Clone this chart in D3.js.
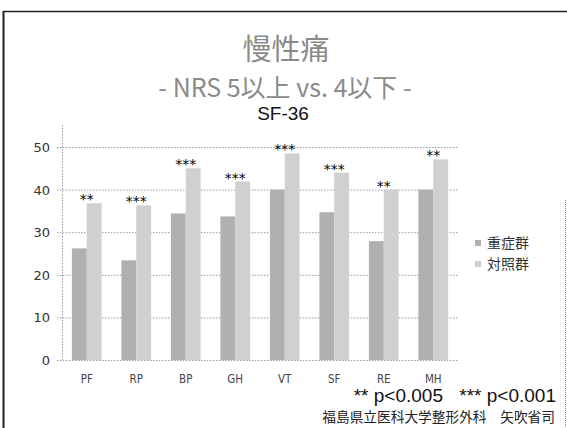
<!DOCTYPE html>
<html><head><meta charset="utf-8">
<script src="https://cdn.jsdelivr.net/npm/d3@7"></script>
<style>
html,body{margin:0;padding:0;background:#fff;}
svg{display:block;}
text{white-space:pre;}
</style></head>
<body>
<svg id="c" width="567" height="428"></svg>
<script>
const categories = ["PF","RP","BP","GH","VT","SF","RE","MH"];
const severeValues = [26.2, 23.4, 34.4, 33.7, 40.0, 34.7, 27.9, 40.0];
const controlValues = [36.8, 36.3, 45.0, 41.9, 48.5, 44.0, 40.0, 47.1];
const significance = ["**","***","***","***","***","***","**","**"];
const seriesNames = ["重症群","対照群"];
const yTicks = [0,10,20,30,40,50];
const pNotes = ["** p<0.005","*** p<0.001"];

const svg = d3.select("#c");
const colors = ["#b0b0b0","#d0d0d0"];

// frame
svg.append("line").attr("x1",3.5).attr("x2",3.5).attr("y1",11).attr("y2",428).attr("stroke","#222").attr("stroke-width",2);
svg.append("line").attr("x1",3).attr("x2",567).attr("y1",11.5).attr("y2",11.5).attr("stroke","#222").attr("stroke-width",1.5);
svg.append("line").attr("x1",565.5).attr("x2",565.5).attr("y1",200).attr("y2",428).attr("stroke","#888").attr("stroke-dasharray","1,1");

// titles
svg.append("text").attr("x",286).attr("y",60).attr("text-anchor","middle")
  .attr("font-family","Noto Sans CJK JP").attr("font-size",29).attr("fill","#8a8a8a").text("慢性痛");
svg.append("text").attr("x",285).attr("y",97).attr("text-anchor","middle")
  .attr("font-family","Noto Sans CJK JP").attr("font-size",25).attr("fill","#8a8a8a").text("- NRS 5以上 vs. 4以下 -");
svg.append("text").attr("x",283).attr("y",120).attr("text-anchor","middle")
  .attr("font-family","Liberation Sans").attr("font-size",19).attr("fill","#111").text("SF-36");

const x0 = d3.scaleBand().domain(categories).range([62,458]).paddingInner(0.4).paddingOuter(0.2);
const x1 = d3.scaleBand().domain([0,1]).range([0,x0.bandwidth()]);
const y = d3.scaleLinear().domain([0,50]).range([360,147]);

// gridlines
const g = svg.append("g");
g.selectAll("line.grid").data(yTicks).join("line")
  .attr("x1",57).attr("x2",458).attr("y1",d=>y(d)+0.5).attr("y2",d=>y(d)+0.5)
  .attr("stroke","#999").attr("stroke-dasharray","1.5,1.5");
g.append("line").attr("x1",62.5).attr("x2",62.5).attr("y1",125).attr("y2",360)
  .attr("stroke","#999").attr("stroke-dasharray","1.5,1.5");

// y axis
const yAxis = d3.axisLeft(y).tickValues(yTicks).tickSize(0).tickPadding(0);
const ya = svg.append("g").attr("transform","translate(50,0)").call(yAxis);
ya.select(".domain").remove();
ya.selectAll("text").attr("font-family","DejaVu Sans").attr("font-size",13).attr("fill","#333").attr("dy","0.35em");

// bars
const groups = svg.append("g").selectAll("g").data(categories).join("g")
  .attr("transform",d=>`translate(${x0(d)},0)`);
groups.selectAll("rect").data((d,i)=>[severeValues[i],controlValues[i]]).join("rect")
  .attr("x",(d,j)=>x1(j)).attr("width",x1.bandwidth())
  .attr("y",d=>y(d)).attr("height",d=>y(0)-y(d))
  .attr("fill",(d,j)=>colors[j]);

// significance
svg.append("g").selectAll("text").data(categories).join("text")
  .attr("x",d=>x0(d)+x0.bandwidth()/2)
  .attr("y",(d,i)=>y(controlValues[i])+1)
  .attr("text-anchor","middle").attr("font-family","DejaVu Sans").attr("font-size",14).attr("fill","#000")
  .text((d,i)=>significance[i]);

// x axis labels
const xAxis = d3.axisBottom(x0).tickSize(0).tickPadding(0);
const xa = svg.append("g").attr("transform","translate(0,375)").call(xAxis);
xa.select(".domain").remove();
xa.selectAll("text").attr("font-family","DejaVu Sans Condensed, DejaVu Sans").attr("font-size",11.5).attr("fill","#444");

// legend
const lg = svg.append("g").selectAll("g").data(seriesNames).join("g")
  .attr("transform",(d,i)=>`translate(475,${243+i*21})`);
lg.append("rect").attr("x",0).attr("y",-3).attr("width",6).attr("height",6).attr("fill",(d,i)=>colors[i]);
lg.append("text").attr("x",12).attr("y",0).attr("dy","0.38em")
  .attr("font-family","Noto Sans CJK JP").attr("font-size",14).attr("fill","#333").text(d=>d);

// footnotes
svg.append("g").selectAll("text").data(pNotes).join("text")
  .attr("x",(d,i)=>i===0?443:556).attr("y",402).attr("text-anchor","end")
  .attr("font-family","Liberation Sans").attr("font-size",19).attr("fill","#111")
  .text(d=>d);
svg.append("text").attr("x",555).attr("y",422).attr("text-anchor","end")
  .attr("font-family","Noto Sans CJK JP").attr("font-size",13.7).attr("fill","#222")
  .text("福島県立医科大学整形外科　矢吹省司");
</script>
</body></html>
